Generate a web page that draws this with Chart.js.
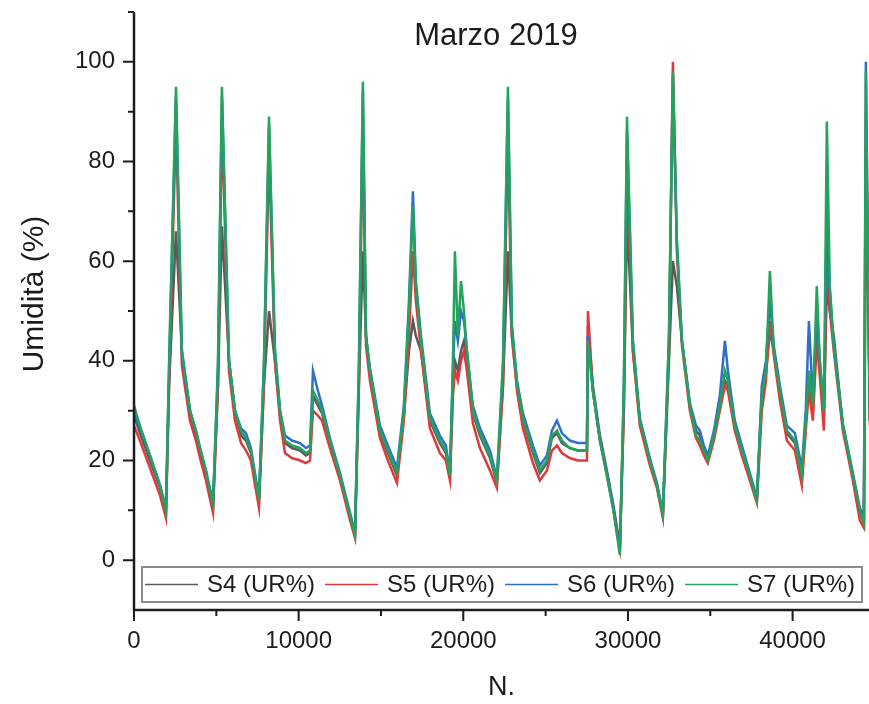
<!DOCTYPE html>
<html>
<head>
<meta charset="utf-8">
<script src="https://cdn.jsdelivr.net/npm/chart.js@4.4.1/dist/chart.umd.min.js"></script>
<style>
  html, body { margin: 0; padding: 0; background: #fff; }
  #wrap { width: 869px; height: 704px; }
</style>
</head>
<body>
<div id="wrap"><canvas id="graficoUmidita"></canvas></div>
<script>
// dati (N. = numero campione)
const titolo = 'Marzo 2019';
const titoloY = 'Umidità (%)';
const campioni = [
    0, 360, 970, 1580, 1940, 2130, 2550, 2910, 3400, 3760, 4010, 4370, 4800,
    5100, 5340, 5770, 6130, 6500, 6800, 7100, 7590, 7890, 8200, 8560, 8870,
    9170, 9590, 10080, 10440, 10690, 10870, 11170, 11420, 11900, 12510, 13120,
    13420, 13660, 13900, 14090, 14330, 14940, 15420, 15970, 16390, 16700, 16940,
    17120, 17430, 17970, 18580, 18940, 19190, 19370, 19490, 19670, 19860, 20040,
    20220, 20580, 21010, 21620, 22040, 22410, 22710, 22950, 23260, 23620, 24230,
    24650, 25080, 25380, 25690, 25990, 26470, 26960, 27510, 27570, 27870, 28300,
    28720, 29090, 29510, 29750, 29940, 30120, 30300, 30720, 31330, 31760, 32120,
    32490, 32730, 32970, 33280, 33760, 34130, 34370, 34610, 34850, 35220, 35580,
    35890, 36070, 36490, 36920, 37400, 37830, 38130, 38380, 38620, 38860, 39230,
    39650, 40140, 40560, 40800, 40990, 41230, 41470, 41650, 41900, 42080, 42260,
    42500, 43050, 43660, 44080, 44330, 44450, 44570, 44690
];
const s4 = [
    29, 25.5, 20, 14.5, 9.5, 35, 66, 42, 30, 25, 22, 17, 11,
    35, 67, 40, 30, 25, 24, 21.5, 12, 35, 50, 40, 29,
    23.5, 22.5, 22, 21, 21.5, 33, 31, 29.5, 23.5, 16.5, 8.5,
    5, 35, 62, 45, 37.5, 25.5, 21.5, 17, 29, 42, 48,
    45, 42, 28, 23.5, 21.5, 17, 35, 40, 38, 42, 44,
    40, 29.5, 25, 20.5, 15.5, 35, 62, 45, 35, 28, 21.5,
    17.5, 19.5, 24.5, 25.5, 23.5, 22.5, 22, 22, 47, 35, 25,
    18, 11.5, 3, 30, 68, 56, 42, 28, 20, 15, 9,
    40, 60, 55, 44, 31, 26, 25, 22, 20.5, 25, 32,
    36, 35, 27, 22, 17, 12, 33, 38, 46, 42, 33,
    25.5, 23.5, 16.5, 28, 36, 30, 46, 39, 29, 55, 50,
    45, 27, 17, 9.5, 7.5, 70, 58, 28
];
const s5 = [
    27, 24, 18.5, 13, 8.5, 35, 88, 39, 28, 24, 20.5, 16, 9.5,
    35, 88, 38, 28, 23.5, 22, 20, 10.5, 35, 82, 40, 28,
    21.5, 20.5, 20, 19.5, 20, 30, 29, 28, 22.5, 16, 8,
    4.5, 35, 88, 43, 36, 24.5, 20, 15.5, 28, 45, 62,
    52, 42, 26.5, 21.5, 20, 16, 33, 38, 36, 40, 42,
    38, 27.5, 22.5, 18, 14.5, 35, 85, 45, 34, 26.5, 19.5,
    16, 18, 22, 23, 21.5, 20.5, 20, 20, 50, 34, 24,
    17, 10.5, 2.5, 30, 78, 62, 42, 27, 19, 14.5, 8.5,
    42, 100, 62, 43, 30, 24.5, 23, 21, 19.5, 24, 30,
    35, 34, 26, 21, 16, 11.5, 30, 36, 48, 41, 32,
    24, 22, 15, 26, 34, 28, 44, 37, 26, 62, 50,
    42, 26, 16, 8, 6.5, 90, 60, 27
];
const s6 = [
    30, 26.5, 21, 15, 10.5, 38, 93, 41, 30, 26, 22.5, 18, 11.5,
    38, 93, 40, 30, 26.5, 25.5, 22.5, 12.5, 38, 87, 42, 30,
    25, 24, 23.5, 22.5, 23, 38, 34, 31, 24.5, 17.5, 9.5,
    5.5, 38, 94, 45, 38.5, 27, 23, 18.5, 31, 52, 74,
    56, 45, 29.5, 25, 23, 17.5, 38, 48, 44, 50, 48,
    42, 31, 26.5, 22, 16.5, 38, 93, 47, 36, 29.5, 23,
    19, 21, 26, 28, 25.5, 24, 23.5, 23.5, 45, 34, 24,
    17.5, 11, 2, 34, 86, 66, 44, 28.5, 20.5, 15.5, 9.5,
    44, 97, 64, 44, 31.5, 27, 26, 23, 21, 26, 33,
    44, 38, 28, 23, 17.5, 12.5, 35, 40, 52, 43, 35,
    27, 25.5, 18.5, 30, 48, 32, 50, 40, 31, 70, 54,
    43, 27.5, 17.5, 10.5, 8.5, 100, 62, 30
];
const s7 = [
    31, 27, 21, 15, 10, 40, 95, 42, 30, 26, 22.5, 18, 11,
    40, 95, 40, 30, 26, 24.5, 22, 12, 40, 89, 42, 30,
    24, 23, 22.5, 21.5, 22, 34, 32, 30, 24, 17, 9,
    5, 40, 96, 45, 38, 26, 22, 17.5, 30, 50, 71,
    55, 44, 28.5, 24, 22, 17, 40, 62, 45, 56, 50,
    42, 30, 25.5, 21, 16, 40, 95, 47, 35.5, 28.5, 22,
    18, 20, 25, 26, 24, 22.5, 22, 22, 44, 34, 24,
    17, 10.5, 1, 35, 89, 66, 44, 28, 20, 15, 9,
    45, 98, 64, 44, 31, 25, 24, 22, 20, 25, 31,
    38, 36, 27, 22, 17, 12, 33, 38, 58, 42, 34,
    26, 24, 17, 28, 38, 31, 55, 40, 30, 88, 55,
    43, 27, 17, 10, 7.5, 98, 62, 28
];
const etichette = ['S4 (UR%)', 'S5 (UR%)', 'S6 (UR%)', 'S7 (UR%)'];
const colori = ['#5a5a5a', '#e0393c', '#2f6fc8', '#24a35c'];
const yTicks = [0, 20, 40, 60, 80, 100];
const yMinor = [10, 30, 50, 70, 90, 110];
const xTicks = [0, 10000, 20000, 30000, 40000];
const xMinor = [5000, 15000, 25000, 35000];

const FONT = "'Liberation Sans', Arial, sans-serif";
const serie = [s4, s5, s6, s7];

// assi con tacche maggiori e minori, titolo e legenda interna
const assiPlugin = {
    id: 'assi',
    afterDatasetsDraw(chart) {
        const { ctx, chartArea: a, scales: { x, y } } = chart;
        ctx.save();
        ctx.strokeStyle = '#1c1c1c';
        ctx.lineWidth = 2;
        ctx.beginPath();
        yTicks.forEach(v => { const p = y.getPixelForValue(v); ctx.moveTo(a.left - 11, p); ctx.lineTo(a.left, p); });
        yMinor.forEach(v => { const p = y.getPixelForValue(v); ctx.moveTo(a.left - 6, p); ctx.lineTo(a.left, p); });
        xTicks.forEach(v => { const p = x.getPixelForValue(v); ctx.moveTo(p, a.bottom); ctx.lineTo(p, a.bottom + 11); });
        xMinor.forEach(v => { const p = x.getPixelForValue(v); ctx.moveTo(p, a.bottom); ctx.lineTo(p, a.bottom + 6); });
        ctx.stroke();
        ctx.lineWidth = 2.5;
        ctx.beginPath();
        ctx.moveTo(a.left, a.top);
        ctx.lineTo(a.left, a.bottom);
        ctx.lineTo(a.right, a.bottom);
        ctx.stroke();

        ctx.fillStyle = '#1c1c1c';
        ctx.textAlign = 'center';
        ctx.textBaseline = 'middle';
        ctx.font = '31px ' + FONT;
        ctx.fillText(titolo, a.left + 362, a.top + 24);

        ctx.save();
        ctx.translate(a.left - 99, a.top + 282);
        ctx.rotate(-Math.PI / 2);
        ctx.font = '30px ' + FONT;
        ctx.fillText(titoloY, 0, 0);
        ctx.restore();

        const bx = a.left + 8, by = a.bottom - 43, bw = a.right - a.left - 15, bh = 35;
        ctx.fillStyle = '#fff';
        ctx.fillRect(bx, by, bw, bh);
        ctx.strokeStyle = '#8a8a8a';
        ctx.lineWidth = 2;
        ctx.strokeRect(bx, by, bw, bh);
        ctx.font = '24px ' + FONT;
        ctx.textAlign = 'left';
        let cx = bx + 3;
        const cy = by + bh / 2;
        chart.data.datasets.forEach(ds => {
            ctx.strokeStyle = ds.borderColor;
            ctx.lineWidth = 1.5;
            ctx.beginPath();
            ctx.moveTo(cx, cy);
            ctx.lineTo(cx + 53, cy);
            ctx.stroke();
            cx += 62;
            ctx.fillStyle = '#1c1c1c';
            ctx.fillText(ds.label, cx, cy + 1);
            cx += ctx.measureText(ds.label).width + 10;
        });
        ctx.restore();
    }
};

const config = {
    type: 'line',
    data: {
        datasets: serie.map((s, i) => ({
            label: etichette[i],
            data: campioni.map((n, k) => ({ x: n, y: s[k] })),
            borderColor: colori[i],
            backgroundColor: colori[i],
            borderWidth: 2.5,
            pointRadius: 0,
            tension: 0,
            order: 3 - i
        }))
    },
    options: {
        responsive: true,
        maintainAspectRatio: false,
        animation: false,
        layout: { padding: { top: 12, left: 0, right: 0, bottom: 0 } },
        plugins: {
            legend: { display: false },
            tooltip: { enabled: false }
        },
        scales: {
            x: {
                type: 'linear',
                min: 0,
                max: 44640,
                grid: { display: false, drawTicks: false },
                border: { display: false },
                afterBuildTicks: s => { s.ticks = xTicks.map(v => ({ value: v })); },
                afterFit: s => { s.height = 94; s.paddingLeft = 0; s.paddingRight = 0; },
                ticks: {
                    padding: 17,
                    color: '#1c1c1c',
                    font: { family: FONT, size: 24 },
                    maxRotation: 0,
                    callback: v => String(v)
                },
                title: {
                    display: true,
                    text: 'N.',
                    color: '#1c1c1c',
                    font: { family: FONT, size: 27 },
                    padding: { top: 0, bottom: 0 }
                }
            },
            y: {
                min: -10,
                max: 110,
                grid: { display: false, drawTicks: false },
                border: { display: false },
                afterBuildTicks: s => { s.ticks = yTicks.map(v => ({ value: v })); },
                afterFit: s => { s.width = 134; s.paddingTop = 0; s.paddingBottom = 0; },
                ticks: {
                    padding: 19,
                    color: '#1c1c1c',
                    font: { family: FONT, size: 24 }
                }
            }
        }
    },
    plugins: [assiPlugin]
};

new Chart(document.getElementById('graficoUmidita'), config);
</script>
</body>
</html>
